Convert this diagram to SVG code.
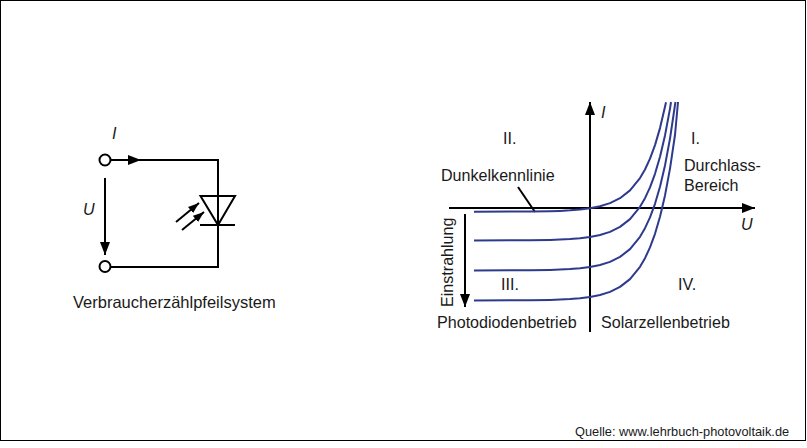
<svg xmlns="http://www.w3.org/2000/svg" width="807" height="448" viewBox="0 0 807 448">
<style>
text{font-family:"Liberation Sans",Arial,sans-serif;font-size:16.1px;fill:#1a1a1a}
.i{font-style:italic}
.w{fill:none;stroke:#000;stroke-width:2}
.c{fill:none;stroke:#2e3a8c;stroke-width:2;stroke-linejoin:round}
</style>
<defs>
<marker id="a" markerUnits="userSpaceOnUse" markerWidth="14" markerHeight="10" refX="13" refY="5" orient="auto"><path d="M0 0L13 5L0 10Z" fill="#000"/></marker>
<marker id="b" markerUnits="userSpaceOnUse" markerWidth="12" markerHeight="8" refX="11" refY="4" orient="auto"><path d="M0 0L11 4L0 8Z" fill="#000"/></marker>
</defs>
<rect x="0" y="0" width="807" height="448" fill="#fff"/>
<rect x="0.5" y="0.5" width="805" height="440" fill="#fff" stroke="#000"/>
<g id="connectors">
<path class="w" d="M111 160H218V267H111"/>
<path class="w" d="M111 160H141" marker-end="url(#a)"/>
<path class="w" d="M105 178V255" marker-end="url(#a)"/>
<path class="w" d="M176 222L199 203" marker-end="url(#b)"/>
<path class="w" d="M182 230L204 212" marker-end="url(#b)"/>
<path class="w" d="M590 332V102" marker-end="url(#a)"/>
<path class="w" d="M449 208H755" marker-end="url(#a)"/>
<path class="w" d="M465 214V307" marker-end="url(#a)"/>
<path class="w" d="M518 187L535 212"/>
</g>
<g id="curves">
<polyline class="c" points="474,211.75 530,211.54 550,211.21 560,210.88 570,210.37 580,209.57 590,208.3 600,206.3 610,203.16 620,198.2 630,190.4 640,178.1 645,169.5 650,158.7 655,145.1 660,128.1 665,106.7 666,102.3"/>
<polyline class="c" points="474,240.45 530,240.24 550,239.91 560,239.58 570,239.07 580,238.27 590,237 600,235 610,231.86 620,226.9 630,219.1 640,206.8 645,198.2 650,187.4 655,173.8 660,156.8 665,135.4 670,108.6 671,102"/>
<polyline class="c" points="474,270.45 530,270.24 550,269.91 560,269.58 570,269.07 580,268.27 590,267 600,265 610,261.86 620,256.9 630,249.1 640,236.8 645,228.2 650,217.4 655,203.8 660,186.8 665,165.4 670,138.6 675,105 675.5,102"/>
<polyline class="c" points="474,300.45 530,300.24 550,299.91 560,299.58 570,299.07 580,298.27 590,297 600,295 610,291.86 620,286.9 630,279.1 640,266.8 645,258.2 650,247.4 655,233.8 660,216.8 665,195.4 670,168.6 675,135 678,102"/>
</g>
<g id="node-terminal-1"><circle cx="105" cy="160" r="5.500" fill="#fff" stroke="#000" stroke-width="2"/></g>
<g id="node-terminal-2"><circle cx="105" cy="266.500" r="5.500" fill="#fff" stroke="#000" stroke-width="2"/></g>
<g id="node-diode"><path class="w" d="M200.500 196H235L218 225ZM200 225H235"/></g>
<g id="labels">
<text class="i" x="112" y="139">I</text>
<text class="i" x="83" y="215">U</text>
<text x="73" y="308" style="font-size:16.500px">Verbraucherzählpfeilsystem</text>
<text class="i" x="601" y="118">I</text>
<text class="i" x="741" y="230">U</text>
<text x="503" y="144">II.</text>
<text x="691" y="144">I.</text>
<text x="684" y="171">Durchlass-</text>
<text x="684" y="191">Bereich</text>
<text x="441" y="181">Dunkelkennlinie</text>
<text x="501" y="290">III.</text>
<text x="678" y="290">IV.</text>
<text x="437" y="328">Photodiodenbetrieb</text>
<text x="601" y="328">Solarzellenbetrieb</text>
<text transform="translate(453 307) rotate(-90)">Einstrahlung</text>
<text x="575" y="435.500" style="font-size:12.800px">Quelle: www.lehrbuch-photovoltaik.de</text>
</g>
</svg>
